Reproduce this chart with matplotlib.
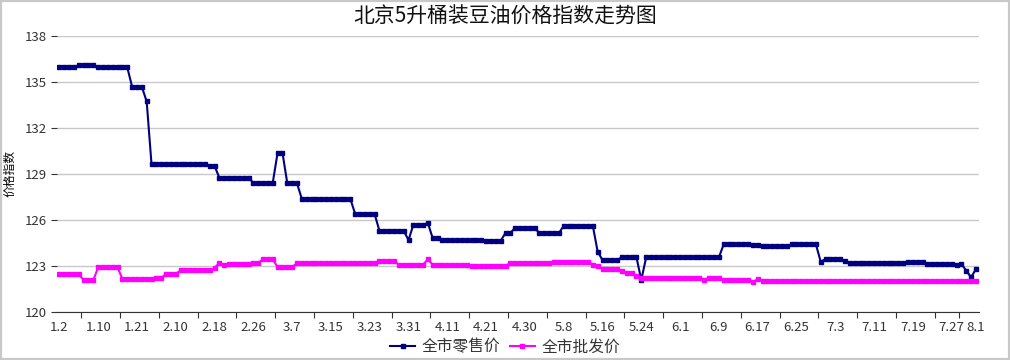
import matplotlib.pyplot as plt
from matplotlib.patches import Rectangle

plt.rcParams['font.family'] = ['Noto Sans CJK SC', 'DejaVu Sans']

title = "北京5升桶装豆油价格指数走势图"
ylabel = "价格指数"
series_names = ["全市零售价", "全市批发价"]

# date labels shown on the x axis (every 8th trading day, plus the last day)
tick_labels = ['1.2', '1.10', '1.21', '2.10', '2.18', '2.26', '3.7', '3.15', '3.23',
               '3.31', '4.11', '4.21', '4.30', '5.8', '5.16', '5.24', '6.1', '6.9',
               '6.17', '6.25', '7.3', '7.11', '7.19', '7.27', '8.1']

# 全市零售价, one value per trading day
retail = [
    135.95, 135.95, 135.95, 135.95, 136.08, 136.08, 136.08, 136.08, 135.95, 135.95,
    135.95, 135.95, 135.95, 135.95, 135.95, 134.68, 134.68, 134.68, 133.73, 129.62,
    129.62, 129.62, 129.62, 129.62, 129.62, 129.62, 129.62, 129.62, 129.62, 129.62,
    129.62, 129.52, 129.52, 128.73, 128.73, 128.73, 128.73, 128.73, 128.73, 128.73,
    128.42, 128.42, 128.42, 128.42, 128.42, 130.38, 130.38, 128.38, 128.38, 128.38,
    127.36, 127.36, 127.36, 127.36, 127.36, 127.36, 127.36, 127.36, 127.36, 127.36,
    127.36, 126.38, 126.38, 126.38, 126.38, 126.38, 125.28, 125.28, 125.28, 125.28,
    125.28, 125.28, 124.68, 125.68, 125.68, 125.68, 125.78, 124.78, 124.78, 124.68,
    124.68, 124.68, 124.67, 124.67, 124.66, 124.66, 124.65, 124.65, 124.64, 124.64,
    124.63, 124.63, 125.14, 125.14, 125.48, 125.48, 125.48, 125.48, 125.48, 125.12,
    125.12, 125.12, 125.12, 125.12, 125.61, 125.61, 125.61, 125.61, 125.61, 125.61,
    125.61, 123.92, 123.37, 123.37, 123.37, 123.37, 123.55, 123.55, 123.55, 123.55,
    122.07, 123.55, 123.55, 123.55, 123.55, 123.55, 123.55, 123.55, 123.55, 123.55,
    123.55, 123.55, 123.55, 123.55, 123.55, 123.55, 123.55, 124.40, 124.40, 124.40,
    124.40, 124.40, 124.40, 124.37, 124.37, 124.27, 124.27, 124.27, 124.27, 124.27,
    124.27, 124.40, 124.40, 124.40, 124.40, 124.40, 124.40, 123.26, 123.44, 123.44,
    123.44, 123.44, 123.33, 123.18, 123.18, 123.18, 123.18, 123.18, 123.18, 123.18,
    123.18, 123.18, 123.18, 123.18, 123.18, 123.22, 123.22, 123.22, 123.22, 123.13,
    123.13, 123.13, 123.13, 123.13, 123.09, 123.08, 123.12, 122.68, 122.25, 122.77,
]

# 全市批发价
wholesale = [
    122.43, 122.43, 122.43, 122.43, 122.43, 122.07, 122.07, 122.07, 122.89, 122.89,
    122.89, 122.89, 122.89, 122.13, 122.13, 122.13, 122.13, 122.13, 122.13, 122.13,
    122.20, 122.20, 122.48, 122.48, 122.48, 122.69, 122.69, 122.69, 122.69, 122.69,
    122.69, 122.69, 122.85, 123.20, 123.05, 123.13, 123.13, 123.13, 123.13, 123.13,
    123.18, 123.18, 123.42, 123.42, 123.42, 122.91, 122.91, 122.91, 122.91, 123.17,
    123.17, 123.17, 123.17, 123.17, 123.17, 123.17, 123.17, 123.17, 123.17, 123.17,
    123.17, 123.17, 123.17, 123.17, 123.17, 123.17, 123.30, 123.30, 123.30, 123.30,
    123.07, 123.07, 123.07, 123.07, 123.07, 123.07, 123.43, 123.05, 123.05, 123.05,
    123.05, 123.05, 123.05, 123.05, 123.05, 123.00, 123.00, 123.00, 123.00, 123.00,
    123.00, 123.00, 123.00, 123.17, 123.17, 123.17, 123.17, 123.17, 123.17, 123.17,
    123.17, 123.17, 123.24, 123.24, 123.24, 123.24, 123.24, 123.24, 123.24, 123.24,
    123.07, 123.00, 122.80, 122.80, 122.80, 122.80, 122.63, 122.50, 122.50, 122.30,
    122.20, 122.20, 122.20, 122.20, 122.20, 122.20, 122.20, 122.20, 122.20, 122.20,
    122.20, 122.20, 122.20, 122.10, 122.20, 122.20, 122.20, 122.10, 122.10, 122.10,
    122.10, 122.10, 122.10, 121.95, 122.11, 122.02, 122.02, 122.02, 122.02, 122.02,
    122.02, 122.02, 122.02, 122.02, 122.02, 122.02, 122.02, 122.02, 122.02, 122.02,
    122.02, 122.02, 122.02, 122.02, 122.02, 122.02, 122.02, 122.02, 122.02, 122.02,
    122.02, 122.02, 122.02, 122.02, 122.02, 122.02, 122.02, 122.02, 122.02, 122.02,
    122.02, 122.02, 122.02, 122.02, 122.02, 121.98, 121.98, 121.98, 121.98, 121.98,
]

yticks = [120, 123, 126, 129, 132, 135, 138]

n = len(retail)
x = list(range(n))
label_pos = list(range(0, n - 5, 8)) + [n - 1]
tick_pos = [4.5 + 8 * k for k in range(23)] + [185.5]

fig = plt.figure(figsize=(10.1, 3.6), dpi=100)
ax = fig.add_axes([0.0564, 0.1342, 0.9696 - 0.0564, 0.9 - 0.1342])

ax.plot(x, retail, color='#000080', lw=1.5, marker='s', ms=2.8, label=series_names[0])
ax.plot(x, wholesale, color='#ff00ff', lw=1.5, marker='s', ms=2.8, label=series_names[1])

ax.set_xlim(-0.5, 189.7)
ax.set_ylim(120, 138)
ax.set_yticks(yticks)
ax.yaxis.grid(True, color='#c8c8c8', lw=1)
ax.set_axisbelow(True)
ax.tick_params(axis='y', length=4, color='#333333', labelsize=9.5, labelcolor='#333333', pad=3)

ax.set_xticks(tick_pos)
ax.set_xticklabels([])
ax.set_xticks(label_pos, minor=True)
ax.set_xticklabels(tick_labels, minor=True)
ax.tick_params(axis='x', which='major', length=4, color='#333333')
ax.tick_params(axis='x', which='minor', length=0, labelsize=9.5, labelcolor='#333333', pad=7)

for s in ['top', 'right', 'left']:
    ax.spines[s].set_visible(False)
ax.spines['bottom'].set_color('#333333')

ax.set_ylabel(ylabel, fontsize=8.5, labelpad=6)
fig.text(0.5, 0.955, title, ha='center', va='center', fontsize=15, color='#111111')

ax.legend(loc='center', bbox_to_anchor=(0.486, -0.128), ncol=2, frameon=False,
          fontsize=11.3, handlelength=1.6, columnspacing=0.6, handletextpad=0.4,
          labelcolor='#333333')

fig.patches.append(Rectangle((0, 0), 1, 1, transform=fig.transFigure, fill=False,
                             edgecolor='#c8c8c8', lw=3))

fig.savefig('out.png', dpi=100)
